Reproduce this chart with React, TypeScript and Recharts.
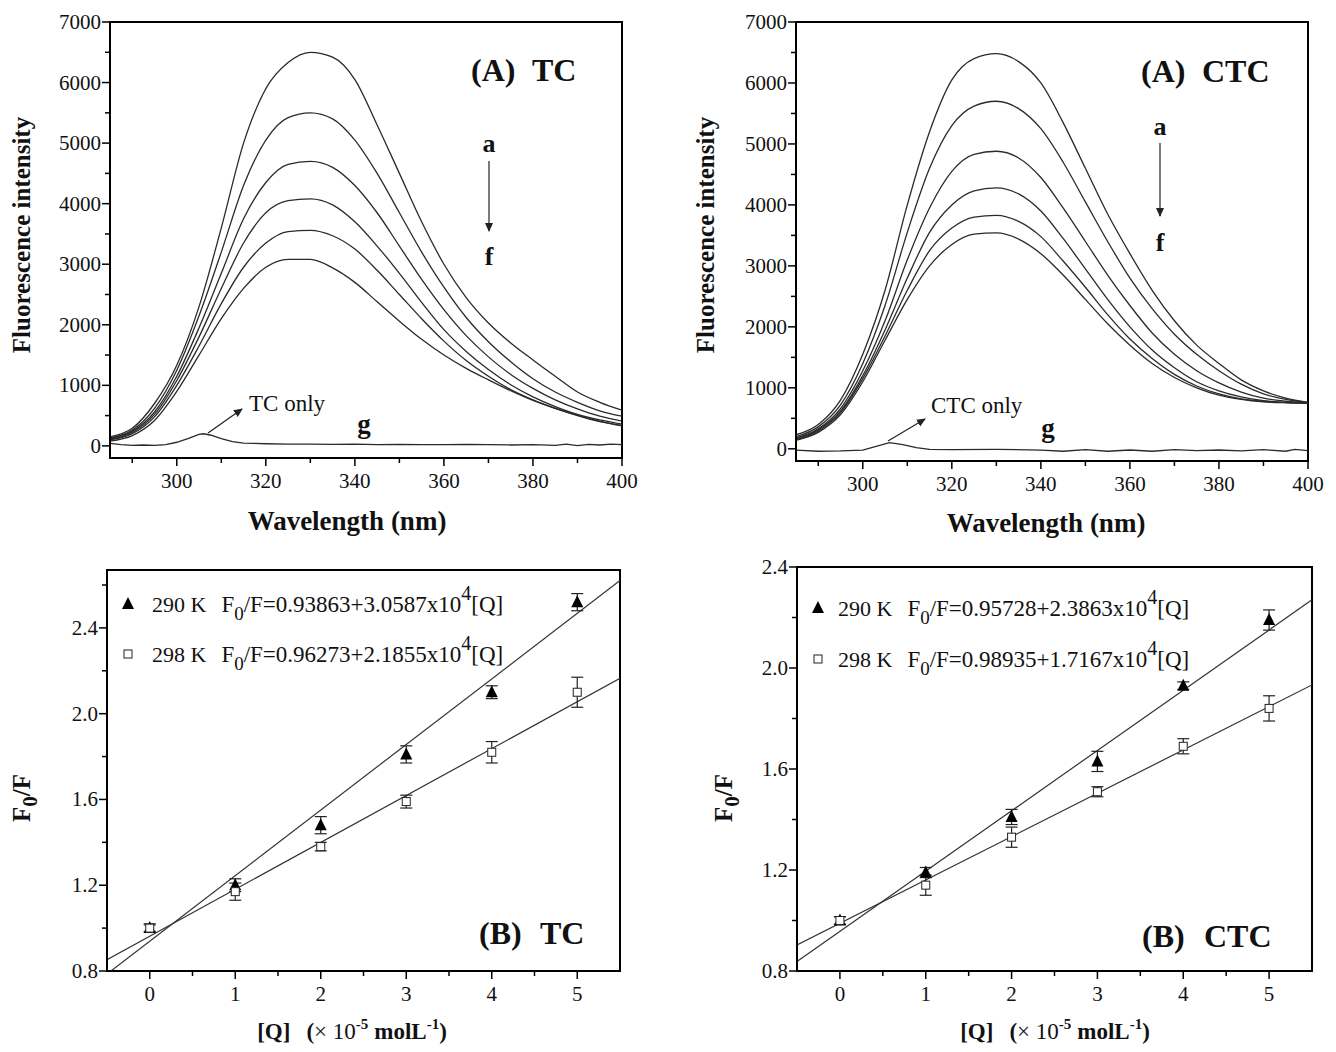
import React from 'react'
import { ComposedChart, Line, Scatter, XAxis, YAxis, ErrorBar, ReferenceArea } from 'recharts'

// wavelength grid (nm) for spectra a..f
const wavelengths = [285, 290, 295, 300, 305, 310, 315, 320, 325, 330, 335, 340, 345, 350, 355, 360, 365, 370, 375, 380, 385, 390, 395, 400]

const tcA = [150, 290, 700, 1330, 2300, 3600, 5000, 5900, 6330, 6500, 6420, 6050, 5300, 4500, 3700, 3000, 2450, 2030, 1700, 1420, 1150, 890, 720, 590]
const tcB = [130, 260, 620, 1250, 2150, 3200, 4300, 5050, 5420, 5500, 5400, 5050, 4500, 3850, 3200, 2620, 2120, 1720, 1390, 1110, 890, 720, 580, 490]
const tcC = [120, 240, 560, 1150, 1950, 2850, 3750, 4350, 4650, 4700, 4600, 4300, 3850, 3300, 2750, 2250, 1820, 1470, 1180, 950, 760, 610, 490, 410]
const tcD = [110, 220, 520, 1080, 1800, 2600, 3350, 3850, 4050, 4080, 3980, 3700, 3300, 2850, 2370, 1920, 1560, 1260, 1010, 810, 650, 520, 430, 360]
const tcE = [100, 200, 480, 1000, 1650, 2350, 2950, 3350, 3540, 3560, 3470, 3250, 2900, 2500, 2100, 1730, 1410, 1150, 930, 760, 620, 500, 400, 340]
const tcF = [80, 170, 420, 900, 1500, 2100, 2600, 2950, 3080, 3080, 2940, 2700, 2380, 2060, 1760, 1500, 1280, 1090, 910, 750, 620, 510, 410, 330]

const ctcA = [230, 400, 800, 1550, 2600, 4000, 5200, 6050, 6400, 6480, 6350, 6000, 5350, 4600, 3850, 3200, 2600, 2100, 1700, 1400, 1130, 950, 830, 760]
const ctcB = [200, 360, 720, 1400, 2350, 3550, 4600, 5300, 5620, 5700, 5580, 5250, 4700, 4050, 3400, 2800, 2300, 1880, 1550, 1280, 1060, 900, 810, 760]
const ctcC = [180, 330, 660, 1280, 2100, 3100, 3950, 4550, 4830, 4880, 4770, 4450, 3950, 3400, 2850, 2350, 1900, 1550, 1280, 1080, 930, 830, 780, 750]
const ctcD = [165, 310, 620, 1200, 1950, 2800, 3550, 4000, 4230, 4280, 4180, 3900, 3450, 2950, 2450, 2000, 1620, 1330, 1100, 950, 850, 790, 760, 750]
const ctcE = [150, 290, 590, 1150, 1850, 2600, 3250, 3620, 3800, 3830, 3730, 3480, 3080, 2650, 2200, 1800, 1480, 1220, 1030, 900, 820, 780, 760, 750]
const ctcF = [140, 270, 560, 1100, 1780, 2450, 3000, 3350, 3520, 3540, 3440, 3200, 2850, 2450, 2050, 1700, 1400, 1170, 1000, 880, 810, 770, 755, 750]

// drug-only spectra (curve g)
const tcOnlyWl = [285, 287.5, 290, 292.5, 295, 297.5, 300, 302.5, 305, 306, 307.5, 310, 312.5, 315, 317.5, 320, 325, 330, 335, 340, 345, 350, 355, 360, 365, 370, 375, 380, 385, 387.5, 390, 392.5, 395, 397.5, 400]
const tcOnly = [40, 20, 10, 15, 10, 20, 60, 120, 190, 200, 180, 120, 70, 45, 40, 35, 30, 30, 25, 30, 20, 25, 20, 20, 25, 20, 15, 20, 10, 30, 5, 25, 15, 30, 20]
const ctcOnlyWl = [285, 290, 295, 300, 303, 306, 309, 312, 315, 320, 330, 340, 345, 350, 355, 360, 365, 370, 375, 380, 385, 390, 395, 397, 400]
const ctcOnly = [-20, -40, -35, -20, 40, 100, 70, 20, -10, -15, -10, -20, -40, -15, -40, -20, -40, -15, -30, -20, -35, -15, -40, -10, -30]

// Stern-Volmer data
const conc = [0, 1, 2, 3, 4, 5]
const tc290 = [1.0, 1.2, 1.48, 1.81, 2.1, 2.52]
const tc290Err = [0.02, 0.03, 0.04, 0.04, 0.03, 0.04]
const tc298 = [1.0, 1.17, 1.38, 1.59, 1.82, 2.1]
const tc298Err = [0.015, 0.04, 0.02, 0.03, 0.05, 0.07]
const ctc290 = [1.0, 1.19, 1.41, 1.63, 1.93, 2.19]
const ctc290Err = [0.015, 0.02, 0.03, 0.04, 0.015, 0.04]
const ctc298 = [1.0, 1.14, 1.33, 1.51, 1.69, 1.84]
const ctc298Err = [0.015, 0.04, 0.04, 0.02, 0.03, 0.05]

// fitted line end points at [Q] = -0.5 and 5.5
const fitQ = [-0.5, 5.5]
const tcFit290 = [0.786, 2.621]
const tcFit298 = [0.853, 2.165]
const ctcFit290 = [0.838, 2.270]
const ctcFit298 = [0.903, 1.933]

const serif = '"Liberation Serif", "Times New Roman", serif'
const curveKeys = ['a', 'b', 'c', 'd', 'e', 'f']

const spectra = (cols: number[][]) =>
  wavelengths.map((wl, i) => {
    const row: any = { x: wl }
    cols.forEach((c, k) => (row[curveKeys[k]] = c[i]))
    return row
  })
const series = (xs: number[], ys: number[], errs?: number[]) =>
  xs.map((x, i) => ({ x, v: ys[i], err: errs ? errs[i] : 0 }))

const tcRows = spectra([tcA, tcB, tcC, tcD, tcE, tcF])
const ctcRows = spectra([ctcA, ctcB, ctcC, ctcD, ctcE, ctcF])

function xTick(majors: number[], fmt: (v: number) => string) {
  return (props: any) => {
    const { x, y, payload } = props
    const v = payload.value
    const major = majors.includes(v)
    return (
      <g>
        <line x1={x} x2={x} y1={y} y2={y + (major ? 8 : 5)} stroke="#000" strokeWidth={1.5} />
        {major && (
          <text x={x} y={y + 30} textAnchor="middle" fontFamily={serif} fontSize={21} fill="#111">
            {fmt(v)}
          </text>
        )}
      </g>
    )
  }
}

function yTick(majors: number[], fmt: (v: number) => string) {
  return (props: any) => {
    const { x, y, payload } = props
    const v = payload.value
    const major = majors.includes(v)
    return (
      <g>
        <line x1={x} x2={x - (major ? 8 : 5)} y1={y} y2={y} stroke="#000" strokeWidth={1.5} />
        {major && (
          <text x={x - 9} y={y + 7} textAnchor="end" fontFamily={serif} fontSize={21} fill="#111">
            {fmt(v)}
          </text>
        )}
      </g>
    )
  }
}

const Triangle = (props: any) => {
  const { cx, cy } = props
  return <path d={`M${cx},${cy - 7} L${cx + 6},${cy + 5} L${cx - 6},${cy + 5} Z`} fill="#000" />
}
const Square = (props: any) => {
  const { cx, cy } = props
  return <rect x={cx - 4} y={cy - 4} width={8} height={8} fill="#fff" stroke="#222" strokeWidth={1} />
}

type SpecProps = {
  rows: any[]
  onlyWl: number[]
  only: number[]
  margin: any
  width: number
  height: number
}

function SpectraChart({ rows, onlyWl, only, margin, width, height }: SpecProps) {
  return (
    <ComposedChart width={width} height={height} margin={margin}>
      <XAxis
        type="number"
        dataKey="x"
        domain={[285, 400]}
        ticks={[290, 300, 310, 320, 330, 340, 350, 360, 370, 380, 390, 400]}
        interval={0}
        tickSize={0}
        tickMargin={0}
        tickLine={false}
        axisLine={{ stroke: '#000', strokeWidth: 2 }}
        tick={xTick([300, 320, 340, 360, 380, 400], (v) => String(v))}
        height={30}
        allowDataOverflow
      />
      <YAxis
        type="number"
        domain={[-200, 7000]}
        ticks={[0, 500, 1000, 1500, 2000, 2500, 3000, 3500, 4000, 4500, 5000, 5500, 6000, 6500, 7000]}
        interval={0}
        tickSize={0}
        tickMargin={0}
        tickLine={false}
        axisLine={{ stroke: '#000', strokeWidth: 2 }}
        tick={yTick([0, 1000, 2000, 3000, 4000, 5000, 6000, 7000], (v) => String(v))}
        width={60}
        allowDataOverflow
      />
      <ReferenceArea x1={285} x2={400} y1={-200} y2={7000} fill="none" stroke="#000" strokeWidth={2} />
      {curveKeys.map((k) => (
        <Line
          key={k}
          data={rows}
          dataKey={k}
          type="monotone"
          stroke="#2a2a2a"
          strokeWidth={1.3}
          dot={false}
          isAnimationActive={false}
        />
      ))}
      <Line
        data={series(onlyWl, only)}
        dataKey="v"
        type="linear"
        stroke="#2a2a2a"
        strokeWidth={1.3}
        dot={false}
        isAnimationActive={false}
      />
    </ComposedChart>
  )
}

type SVProps = {
  s290: number[]
  e290: number[]
  s298: number[]
  e298: number[]
  f290: number[]
  f298: number[]
  yMax: number
  yTicks: number[]
  yMajors: number[]
  margin: any
  width: number
  height: number
}

function SternVolmer({ s290, e290, s298, e298, f290, f298, yMax, yTicks, yMajors, margin, width, height }: SVProps) {
  return (
    <ComposedChart width={width} height={height} margin={margin}>
      <XAxis
        type="number"
        dataKey="x"
        domain={[-0.5, 5.5]}
        ticks={[0, 0.5, 1, 1.5, 2, 2.5, 3, 3.5, 4, 4.5, 5]}
        interval={0}
        tickSize={0}
        tickMargin={0}
        tickLine={false}
        axisLine={{ stroke: '#000', strokeWidth: 2 }}
        tick={xTick([0, 1, 2, 3, 4, 5], (v) => String(v))}
        height={30}
        allowDataOverflow
      />
      <YAxis
        type="number"
        domain={[0.8, yMax]}
        ticks={yTicks}
        interval={0}
        tickSize={0}
        tickMargin={0}
        tickLine={false}
        axisLine={{ stroke: '#000', strokeWidth: 2 }}
        tick={yTick(yMajors, (v) => v.toFixed(1))}
        width={60}
        allowDataOverflow
      />
      <ReferenceArea x1={-0.5} x2={5.5} y1={0.8} y2={yMax} fill="none" stroke="#000" strokeWidth={2} />
      <Line data={series(fitQ, f290)} dataKey="v" type="linear" stroke="#333" strokeWidth={1.2} dot={false} isAnimationActive={false} />
      <Line data={series(fitQ, f298)} dataKey="v" type="linear" stroke="#333" strokeWidth={1.2} dot={false} isAnimationActive={false} />
      <Scatter data={series(conc, s290, e290)} dataKey="v" shape={Triangle} isAnimationActive={false}>
        <ErrorBar dataKey="err" direction="y" width={6} stroke="#222" strokeWidth={1.2} />
      </Scatter>
      <Scatter data={series(conc, s298, e298)} dataKey="v" shape={Square} isAnimationActive={false}>
        <ErrorBar dataKey="err" direction="y" width={6} stroke="#222" strokeWidth={1.2} />
      </Scatter>
    </ComposedChart>
  )
}

const overlay: React.CSSProperties = { position: 'absolute', left: 0, top: 0, pointerEvents: 'none' }

function Arrow({ id }: { id: string }) {
  return (
    <defs>
      <marker id={id} markerWidth="10" markerHeight="10" refX="8" refY="5" orient="auto" markerUnits="userSpaceOnUse">
        <path d="M0,1 L9,5 L0,9 Z" fill="#222" />
      </marker>
    </defs>
  )
}

function EqLegend({ x, y, k, eq }: { x: number; y: number; k: string; eq: [string, string] }) {
  return (
    <text x={x} y={y} fontFamily={serif} fontSize={22} fill="#111">
      {k}
      <tspan dx={15} fontSize={23}>F</tspan>
      <tspan dy={8} fontSize={19}>0</tspan>
      <tspan dy={-8} fontSize={23}>{'/F=' + eq[0] + '+' + eq[1] + 'x10'}</tspan>
      <tspan dy={-12} fontSize={20}>4</tspan>
      <tspan dy={12} fontSize={23}>[Q]</tspan>
    </text>
  )
}

function QLabel({ cx, y }: { cx: number; y: number }) {
  return (
    <text x={cx} y={y} textAnchor="middle" fontFamily={serif} fontSize={23} fontWeight="bold" fill="#111">
      [Q]
      <tspan dx={16}>(</tspan>
      <tspan fontWeight="normal">× 10</tspan>
      <tspan dy={-10} fontSize={15}>-5</tspan>
      <tspan dy={10} dx={6}>molL</tspan>
      <tspan dy={-10} fontSize={15}>-1</tspan>
      <tspan dy={10}>)</tspan>
    </text>
  )
}

function F0Label({ x, y }: { x: number; y: number }) {
  return (
    <text x={x} y={y} transform={`rotate(-90 ${x} ${y})`} textAnchor="middle" fontFamily={serif} fontSize={25} fontWeight="bold" fill="#111">
      F<tspan dy={7} fontSize={21}>0</tspan>
      <tspan dy={-7}>/F</tspan>
    </text>
  )
}

function Title({ x, gap, y, a, b }: { x: number; gap: number; y: number; a: string; b: string }) {
  return (
    <g fontFamily={serif} fontWeight="bold" fontSize={32} fill="#111">
      <text x={x} y={y}>{a}</text>
      <text x={x + gap} y={y}>{b}</text>
    </g>
  )
}

export default function App() {
  const bold = { fontFamily: serif, fontWeight: 'bold' as const, fill: '#111' }
  return (
    <div style={{ position: 'absolute', left: 0, top: 0, width: 1336, height: 1052, background: '#fff' }}>
      {/* (A) TC */}
      <div style={{ position: 'absolute', left: 0, top: 0, width: 660, height: 540 }}>
        <SpectraChart rows={tcRows} onlyWl={tcOnlyWl} only={tcOnly} width={660} height={540} margin={{ left: 50, right: 38, top: 22, bottom: 52 }} />
        <svg width={660} height={540} style={overlay}>
          <Arrow id="arA1" />
          <text x={22} y={235} dy={8} transform="rotate(-90 22 235)" textAnchor="middle" fontSize={25} {...bold}>Fluorescence intensity</text>
          <text x={347} y={530} textAnchor="middle" fontSize={27} {...bold}>Wavelength (nm)</text>
          <Title x={471} gap={61} y={81} a="(A)" b="TC" />
          <text x={489} y={152} textAnchor="middle" fontSize={26} {...bold}>a</text>
          <line x1={489} y1={161} x2={489} y2={231} stroke="#222" strokeWidth={1.2} markerEnd="url(#arA1)" />
          <text x={489} y={265} textAnchor="middle" fontSize={26} {...bold}>f</text>
          <line x1={208} y1={433} x2={242} y2={409} stroke="#222" strokeWidth={1.2} markerEnd="url(#arA1)" />
          <text x={249} y={411} fontFamily={serif} fontSize={23} fill="#111">TC only</text>
          <text x={364} y={433} textAnchor="middle" fontSize={27} {...bold}>g</text>
        </svg>
      </div>

      {/* (A) CTC */}
      <div style={{ position: 'absolute', left: 670, top: 0, width: 666, height: 540 }}>
        <SpectraChart rows={ctcRows} onlyWl={ctcOnlyWl} only={ctcOnly} width={666} height={540} margin={{ left: 66, right: 28, top: 22, bottom: 49 }} />
        <svg width={666} height={540} style={overlay}>
          <Arrow id="arA2" />
          <text x={36} y={235} dy={8} transform="rotate(-90 36 235)" textAnchor="middle" fontSize={25} {...bold}>Fluorescence intensity</text>
          <text x={376} y={532} textAnchor="middle" fontSize={27} {...bold}>Wavelength (nm)</text>
          <Title x={471} gap={61} y={82} a="(A)" b="CTC" />
          <text x={490} y={135} textAnchor="middle" fontSize={26} {...bold}>a</text>
          <line x1={490} y1={143} x2={490} y2={216} stroke="#222" strokeWidth={1.2} markerEnd="url(#arA2)" />
          <text x={490} y={251} textAnchor="middle" fontSize={26} {...bold}>f</text>
          <line x1={218} y1={441} x2={255} y2={419} stroke="#222" strokeWidth={1.2} markerEnd="url(#arA2)" />
          <text x={261} y={413} fontFamily={serif} fontSize={23} fill="#111">CTC only</text>
          <text x={378} y={437} textAnchor="middle" fontSize={27} {...bold}>g</text>
        </svg>
      </div>

      {/* (B) TC */}
      <div style={{ position: 'absolute', left: 0, top: 540, width: 660, height: 512 }}>
        <SternVolmer
          s290={tc290} e290={tc290Err} s298={tc298} e298={tc298Err} f290={tcFit290} f298={tcFit298}
          yMax={2.67}
          yTicks={[0.8, 1.0, 1.2, 1.4, 1.6, 1.8, 2.0, 2.2, 2.4, 2.6]}
          yMajors={[0.8, 1.2, 1.6, 2.0, 2.4]}
          width={660} height={512} margin={{ left: 47, right: 40, top: 30, bottom: 51 }}
        />
        <svg width={660} height={512} style={overlay}>
          <path d="M128,57 L134,69 L122,69 Z" fill="#000" />
          <EqLegend x={152} y={72} k="290 K" eq={['0.93863', '3.0587']} />
          <rect x={124} y={110} width={8} height={8} fill="#fff" stroke="#222" strokeWidth={1} />
          <EqLegend x={152} y={122} k="298 K" eq={['0.96273', '2.1855']} />
          <Title x={479} gap={61} y={404} a="(B)" b="TC" />
          <F0Label x={30} y={258} />
          <QLabel cx={352} y={499} />
        </svg>
      </div>

      {/* (B) CTC */}
      <div style={{ position: 'absolute', left: 670, top: 540, width: 666, height: 512 }}>
        <SternVolmer
          s290={ctc290} e290={ctc290Err} s298={ctc298} e298={ctc298Err} f290={ctcFit290} f298={ctcFit298}
          yMax={2.4}
          yTicks={[0.8, 1.0, 1.2, 1.4, 1.6, 1.8, 2.0, 2.2, 2.4]}
          yMajors={[0.8, 1.2, 1.6, 2.0, 2.4]}
          width={666} height={512} margin={{ left: 67, right: 24, top: 27, bottom: 51 }}
        />
        <svg width={666} height={512} style={overlay}>
          <path d="M148,61 L154,73 L142,73 Z" fill="#000" />
          <EqLegend x={168} y={76} k="290 K" eq={['0.95728', '2.3863']} />
          <rect x={144} y={115} width={8} height={8} fill="#fff" stroke="#222" strokeWidth={1} />
          <EqLegend x={168} y={127} k="298 K" eq={['0.98935', '1.7167']} />
          <Title x={472} gap={62} y={407} a="(B)" b="CTC" />
          <F0Label x={62} y={258} />
          <QLabel cx={385} y={499} />
        </svg>
      </div>
    </div>
  )
}
